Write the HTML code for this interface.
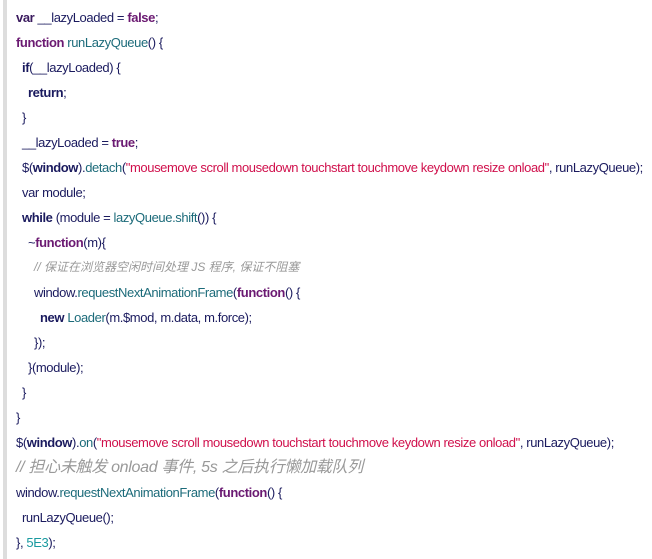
<!DOCTYPE html>
<html><head><meta charset="utf-8"><style>
html,body{margin:0;padding:0;background:#fff;}
body{width:652px;height:559px;position:relative;overflow:hidden;font-family:"Liberation Sans","Noto Sans CJK SC",sans-serif;font-size:13px;color:#1a1a5e;}
.bar{position:absolute;left:3px;top:0;width:4px;height:559px;background:#ddd;}
.l{position:absolute;left:16px;height:25px;line-height:25px;white-space:nowrap;letter-spacing:-0.4px;}
.k{color:#6b1a72;font-weight:bold;}
.f{color:#1c6b7a;}
.s{color:#d0104c;}
.c{color:#999;font-style:italic;letter-spacing:0;}
.n{color:#1a9aa0;}
b{font-weight:bold;}
</style></head><body>
<div class="bar"></div>
<div class="l" style="top:5px"><span class="k" style="color:#3a1a5e">var</span> __lazyLoaded = <span class="k">false</span>;</div>
<div class="l" style="top:30px"><span class="k">function</span> <span class="f">runLazyQueue</span>() {</div>
<div class="l" style="top:55px;left:22px"><b>if</b>(__lazyLoaded) {</div>
<div class="l" style="top:80px;left:28px"><b>return</b>;</div>
<div class="l" style="top:105px;left:22px">}</div>
<div class="l" style="top:130px;left:22px">__lazyLoaded = <span class="k">true</span>;</div>
<div class="l" style="top:155px;left:22px">$(<b>window</b>).<span class="f">detach</span>(<span class="s">"mousemove scroll mousedown touchstart touchmove keydown resize onload"</span>, runLazyQueue);</div>
<div class="l" style="top:180px;left:22px">var module;</div>
<div class="l" style="top:205px;left:22px"><b>while</b> (module = <span class="f">lazyQueue.shift</span>()) {</div>
<div class="l" style="top:230px;left:28px">~<span class="k">function</span>(m){</div>
<div class="l c" style="top:255px;left:34px;font-size:12px">// 保证在浏览器空闲时间处理 JS 程序, 保证不阻塞</div>
<div class="l" style="top:280px;left:34px">window.<span class="f">requestNextAnimationFrame</span>(<span class="k">function</span>() {</div>
<div class="l" style="top:305px;left:40px"><b>new</b> <span class="f">Loader</span>(m.$mod, m.data, m.force);</div>
<div class="l" style="top:330px;left:34px">});</div>
<div class="l" style="top:355px;left:28px">}(module);</div>
<div class="l" style="top:380px;left:22px">}</div>
<div class="l" style="top:405px">}</div>
<div class="l" style="top:430px">$(<b>window</b>).<span class="f">on</span>(<span class="s">"mousemove scroll mousedown touchstart touchmove keydown resize onload"</span>, runLazyQueue);</div>
<div class="l c" style="top:455px;font-size:16px;letter-spacing:-0.3px">// 担心未触发 onload 事件, 5s 之后执行懒加载队列</div>
<div class="l" style="top:480px">window.<span class="f">requestNextAnimationFrame</span>(<span class="k">function</span>() {</div>
<div class="l" style="top:505px;left:22px">runLazyQueue();</div>
<div class="l" style="top:530px">}, <span class="n">5E3</span>);</div>
</body></html>
